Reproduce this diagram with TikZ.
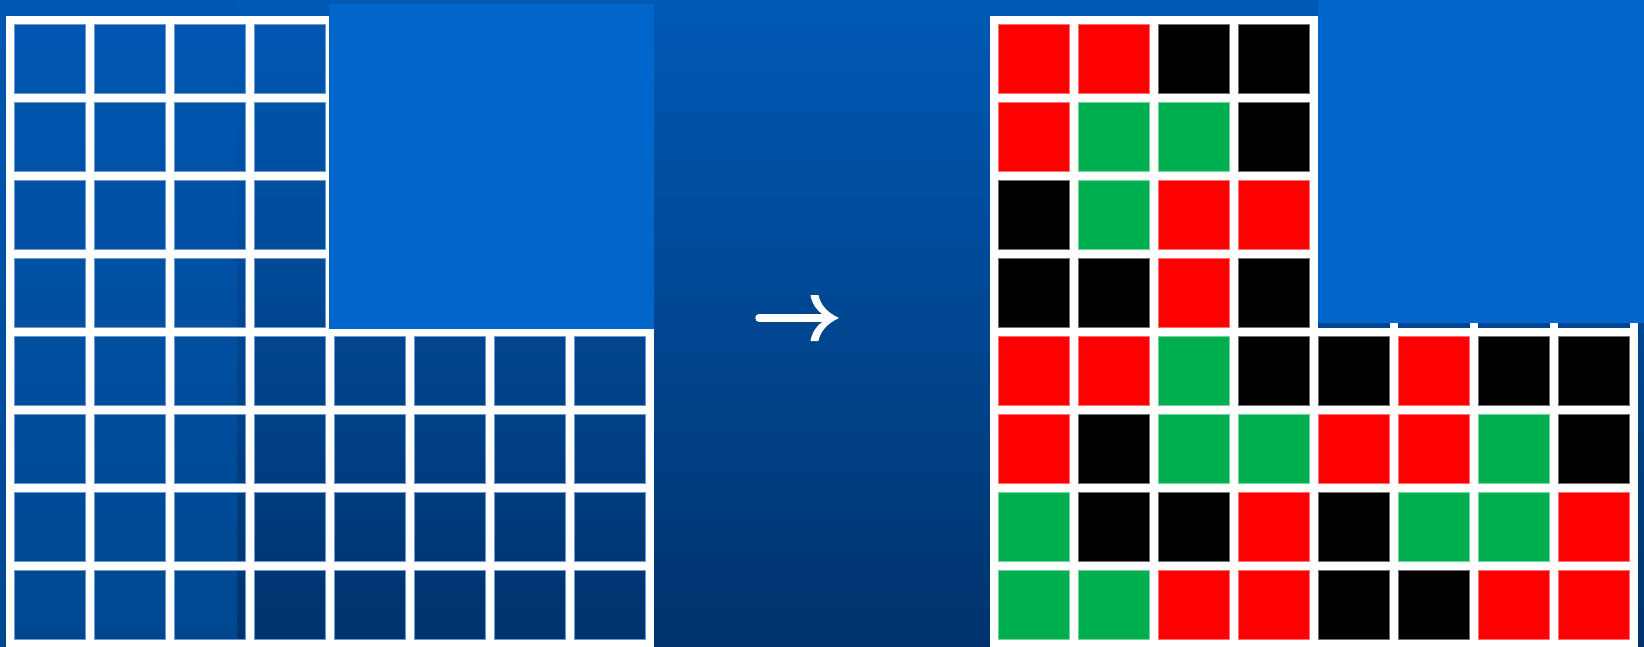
\documentclass[tikz,border=0pt]{standalone}
\usepackage{tikz}
\definecolor{bgtop}{HTML}{0059B5}
\definecolor{bgbottom}{HTML}{00336C}
\definecolor{paneltop}{HTML}{0057B2}
\definecolor{panelbottom}{HTML}{00478F}
\definecolor{boxblue}{HTML}{0066CC}
\definecolor{cellrim}{HTML}{6E9AD2}
\definecolor{cr}{HTML}{FF0000}
\definecolor{cg}{HTML}{00B050}
\definecolor{ck}{HTML}{000000}
\tikzset{
  gridline/.style={white,line width=8pt,line cap=rect},
  bluecell/.style={draw=cellrim,line width=0.8pt},
  colcell/.style={line width=1pt},
  coverbox/.style={fill=boxblue},
  arrowshaft/.style={white,line width=7.5pt,line cap=round},
  arrowhead/.style={fill=white,draw=white,line width=1pt,line join=round}
}

\begin{document}
\begin{tikzpicture}[x=1pt,y=-1pt]
  \useasboundingbox (0,0) rectangle (1644,646);
  % background
  \shade[top color=bgtop,bottom color=bgbottom] (0,0) rectangle (1644,646);
  \shade[top color=paneltop,bottom color=panelbottom] (0,0) rectangle (237,646);

  % left grid (blank cells)
  \begin{scope}[shift={(10,20)}]
    \foreach \c in {0,...,7}
      \foreach \r in {0,...,7}
        \draw[bluecell] (80*\c+4.5,78*\r+4.5) rectangle (80*\c+75.5,78*\r+73.5);
    \foreach \k in {0,...,8} {
      \draw[gridline] (80*\k,0) -- (80*\k,624);
      \draw[gridline] (0,78*\k) -- (640,78*\k);
    }
  \end{scope}
  \fill[coverbox] (329,4) rectangle (654,329);

  % arrow between the grids
  \coordinate (arrowtail) at (759,318);
  \coordinate (arrowtip) at (838,318);
  \draw[arrowshaft] (arrowtail) -- ([xshift=-15pt]arrowtip);
  \begin{scope}[shift={(arrowtip)}]
    \filldraw[arrowhead] (0,0) .. controls (-11,-5) and (-18,-13) .. (-20,-22.5)
      -- (-27,-22.5) .. controls (-25,-14) and (-21,-8) .. (-15,-4)
      -- (-15,4) .. controls (-21,8) and (-25,14) .. (-27,22.5)
      -- (-20,22.5) .. controls (-18,13) and (-11,5) .. (0,0) -- cycle;
  \end{scope}

  % right grid (coloured cells)
  \begin{scope}[shift={(994,20)}]
    \foreach \r/\row in {0/{r,r,k,k},1/{r,g,g,k},2/{k,g,r,r},3/{k,k,r,k},
                         4/{r,r,g,k,k,r,k,k},5/{r,k,g,g,r,r,g,k},
                         6/{g,k,k,r,k,g,g,r},7/{g,g,r,r,k,k,r,r}}
      \foreach \s [count=\c from 0] in \row
        \filldraw[colcell,fill=c\s,draw=c\s!55!white] (80*\c+4.5,78*\r+4.5) rectangle (80*\c+75.5,78*\r+73.5);
    \foreach \k in {0,...,8} {
      \draw[gridline] (80*\k,0) -- (80*\k,624);
      \draw[gridline] (0,78*\k) -- (640,78*\k);
    }
  \end{scope}
  \fill[coverbox] (1318,0) rectangle (1644,323);
\end{tikzpicture}
\end{document}
